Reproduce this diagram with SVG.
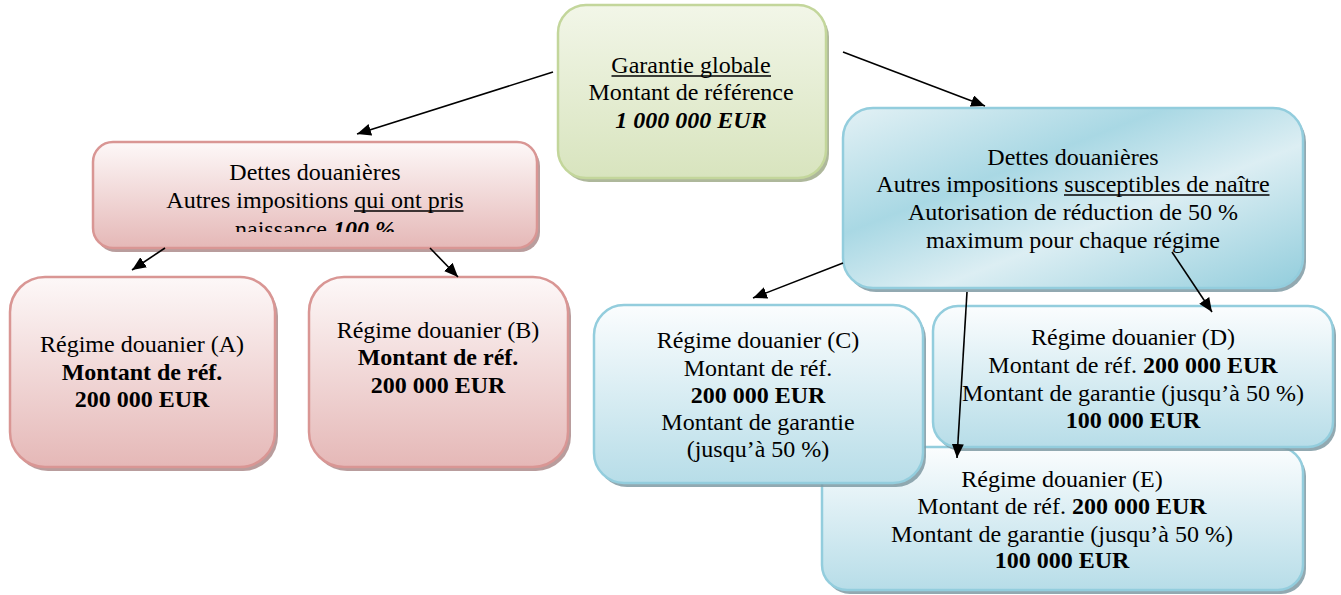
<svg xmlns="http://www.w3.org/2000/svg" width="1341" height="595" viewBox="0 0 1341 595">
<style>
text{font-family:"Liberation Serif","Times New Roman",serif;font-size:24px;fill:#000;text-anchor:middle}
.b{font-weight:bold}
.bi{font-weight:bold;font-style:italic}
.ul{stroke:#000;stroke-width:1.6}
.green{fill:url(#gGreen);stroke:#c3d69b;stroke-width:2.5}
.pink{fill:url(#gPink);stroke:#d99694;stroke-width:2.5}
.blueP{fill:url(#gBlueP);stroke:#93cddd;stroke-width:2.5}
.blue{fill:url(#gBlue);stroke:#93cddd;stroke-width:2.5}
.shG{fill:#9aa682;opacity:.8}
.shP{fill:#a88484;opacity:.8}
.shB{fill:#7f9aa3;opacity:.85}
.con line{stroke:#000;stroke-width:1.6;marker-end:url(#ah)}
</style>
<defs>
<linearGradient id="gGreen" x1="0" y1="0" x2="0" y2="1"><stop offset="0" stop-color="#f2f6e8"/><stop offset="1" stop-color="#d8e4be"/></linearGradient>
<linearGradient id="gPink" x1="0" y1="0" x2="0" y2="1"><stop offset="0" stop-color="#fdf8f8"/><stop offset="1" stop-color="#e5b8b7"/></linearGradient>
<linearGradient id="gBlue" x1="0" y1="0" x2="0" y2="1"><stop offset="0" stop-color="#fbfdfe"/><stop offset="1" stop-color="#b7dde8"/></linearGradient>
<linearGradient id="gBlueP" x1="0" y1="0" x2="1" y2="1"><stop offset="0" stop-color="#e3f1f5"/><stop offset="0.35" stop-color="#a9d8e4"/><stop offset="0.6" stop-color="#dceef3"/><stop offset="1" stop-color="#92cddc"/></linearGradient>
<marker id="ah" viewBox="0 0 14 12" refX="14" refY="6" markerWidth="14" markerHeight="12" markerUnits="userSpaceOnUse" orient="auto"><path d="M0,0 L14,6 L0,12 z" fill="#000"/></marker>
<clipPath id="clipP"><rect x="93" y="142" width="444" height="90"/></clipPath>
</defs>

<g id="node-garantie">
<rect class="shG" x="561" y="9" width="268" height="173" rx="28"/>
<rect class="green" x="558" y="5" width="268" height="173" rx="28"/>
<text x="691" y="73">Garantie globale</text>
<line class="ul" x1="611.5" y1="76" x2="771" y2="76"/>
<text x="691" y="100">Montant de référence</text>
<text x="691" y="128" class="bi">1 000 000 EUR</text>
</g>

<g id="node-dettes-pris">
<rect class="shP" x="96" y="146" width="444" height="106" rx="20"/>
<rect class="pink" x="93" y="142" width="444" height="106" rx="20"/>
<g clip-path="url(#clipP)">
<text x="315" y="180">Dettes douanières</text>
<text x="315" y="208">Autres impositions qui ont pris</text>
<line class="ul" x1="354" y1="211" x2="463.5" y2="211"/>
<text x="315" y="237">naissance <tspan class="bi">100 %</tspan></text>
</g>
</g>

<g id="node-A">
<rect class="shP" x="13" y="281" width="265" height="190" rx="35"/>
<rect class="pink" x="10" y="277" width="265" height="190" rx="35"/>
<text x="142" y="352">Régime douanier (A)</text>
<text x="142" y="380" class="b">Montant de réf.</text>
<text x="142" y="407" class="b">200 000 EUR</text>
</g>

<g id="node-B">
<rect class="shP" x="312" y="281" width="259" height="190" rx="35"/>
<rect class="pink" x="309" y="277" width="259" height="190" rx="35"/>
<text x="438" y="338">Régime douanier (B)</text>
<text x="438" y="365" class="b">Montant de réf.</text>
<text x="438" y="393" class="b">200 000 EUR</text>
</g>

<g id="node-dettes-naitre">
<rect class="shB" x="846" y="112" width="460" height="180" rx="30"/>
<rect class="blueP" x="843" y="108" width="460" height="180" rx="30"/>
<text x="1073" y="165">Dettes douanières</text>
<text x="1073" y="192">Autres impositions susceptibles de naître</text>
<line class="ul" x1="1064" y1="195" x2="1269.5" y2="195"/>
<text x="1073" y="220">Autorisation de réduction de 50 %</text>
<text x="1073" y="248">maximum pour chaque régime</text>
</g>

<g id="node-E">
<rect class="shB" x="825" y="451" width="481" height="143" rx="25"/>
<rect class="blue" x="822" y="447" width="481" height="143" rx="25"/>
<text x="1062" y="487">Régime douanier (E)</text>
<text x="1062" y="514">Montant de réf. <tspan class="b">200 000 EUR</tspan></text>
<text x="1062" y="542">Montant de garantie (jusqu’à 50 %)</text>
<text x="1062" y="568" class="b">100 000 EUR</text>
</g>

<g id="node-C">
<rect class="shB" x="597" y="309" width="329" height="178" rx="30"/>
<rect class="blue" x="594" y="305" width="329" height="178" rx="30"/>
<text x="758" y="348">Régime douanier (C)</text>
<text x="758" y="376">Montant de réf.</text>
<text x="758" y="403" class="b">200 000 EUR</text>
<text x="758" y="430">Montant de garantie</text>
<text x="758" y="457">(jusqu’à 50 %)</text>
</g>

<g id="node-D">
<rect class="shB" x="936" y="310" width="400" height="141" rx="25"/>
<rect class="blue" x="933" y="306" width="400" height="141" rx="25"/>
<text x="1133" y="345">Régime douanier (D)</text>
<text x="1133" y="373">Montant de réf. <tspan class="b">200 000 EUR</tspan></text>
<text x="1133" y="401">Montant de garantie (jusqu’à 50 %)</text>
<text x="1133" y="428" class="b">100 000 EUR</text>
</g>

<g id="connectors" class="con">
<line x1="553" y1="72" x2="357" y2="134"/>
<line x1="843" y1="52" x2="985" y2="106"/>
<line x1="165" y1="248" x2="132" y2="270"/>
<line x1="430" y1="248" x2="458" y2="277"/>
<line x1="843" y1="263" x2="753" y2="298"/>
<line x1="1172" y1="252" x2="1212" y2="312"/>
<line x1="967" y1="292" x2="957" y2="458"/>
</g>
</svg>
